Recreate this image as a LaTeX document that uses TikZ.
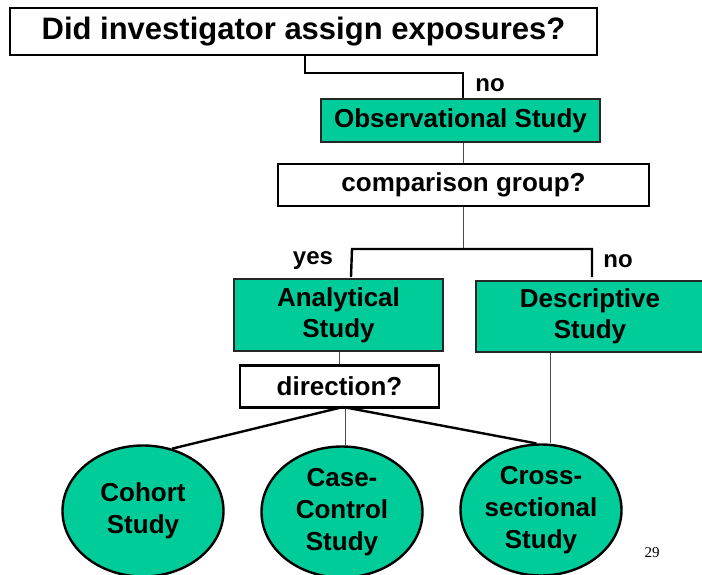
\documentclass[tikz,border=0pt]{standalone}
\usepackage{fontspec}
\setmainfont{Liberation Sans}
\newfontfamily\numfont{Liberation Serif}
\usetikzlibrary{shapes.geometric}
\definecolor{teal}{HTML}{00CC99}
\begin{document}
\begin{tikzpicture}[x=1pt,y=-1pt,
  qbox/.style={draw=black,line width=2pt,fill=white,inner sep=0pt,
    font=\bfseries\fontsize{26}{31}\selectfont},
  gbox/.style={draw=black!85,line width=1.6pt,fill=teal,inner sep=0pt,align=center,
    font=\bfseries\fontsize{26}{31}\selectfont},
  oval/.style={ellipse,draw=black,line width=2.4pt,fill=teal,inner sep=0pt,
    minimum width=161pt,minimum height=131pt,align=center,
    font=\bfseries\fontsize{26}{32}\selectfont},
  thinline/.style={draw=black!70,line width=1pt},
  thickline/.style={draw=black,line width=2.4pt},
  lbl/.style={font=\bfseries\fontsize{24}{28}\selectfont,inner sep=0pt}]
\useasboundingbox (0,0) rectangle (702,575);
\clip (0,0) rectangle (702,575);

% question and study-type boxes
\node[qbox,minimum width=587pt,minimum height=47pt,font=\bfseries\fontsize{31}{36}\selectfont]
  (title) at (303.5,31.5) {Did investigator assign exposures?};
\node[gbox,minimum width=279pt,minimum height=43pt] (obs) at (460.5,120.5) {Observational Study};
\node[qbox,line width=2.4pt,minimum width=371pt,minimum height=42pt] (comp) at (463.5,185) {comparison group?};
\node[gbox,minimum width=209pt,minimum height=72pt] (ana) at (338.5,315) {Analytical\\Study};
\node[gbox,minimum width=228pt,minimum height=71pt] (desc) at (590,316.5) {Descriptive\\Study};
\node[qbox,line width=2.4pt,minimum width=199pt,minimum height=42pt] (dir) at (339.5,386.5) {direction?};

% study designs
\node[oval] (coh) at (143,511) {Cohort\\Study};
\node[oval] (cc) at (342,512) {Case-\\Control\\Study};
\node[oval] (cs) at (541,510) {Cross-\\sectional\\Study};

% branch labels
\node[lbl] (no1) at (490,85) {no};
\node[lbl] (yes) at (313,261) {yes};
\node[lbl] (no2) at (618,261) {no};
\node[font=\numfont\fontsize{15}{17}\selectfont,inner sep=0pt] (pg) at (652,553) {29};

% connectors
\coordinate (t1) at (305,73);
\coordinate (t2) at (463,73);
\draw[thickline] (title.south -| t1) -- (t1) -- (t2) -- (obs.north -| t2);
\draw[thinline] (obs.south -| t2) -- (comp.north -| t2);
\coordinate (b0) at (463,249);
\coordinate (bl) at (352,249);
\coordinate (br) at (592,249);
\draw[thinline] (comp.south -| b0) -- (b0);
\draw[thickline] (351,277) -- (bl) -- (br) -- (br |- 0,277);
\draw[thinline] (ana.south -| 339,0) -- (dir.north -| 339,0);
\coordinate (apex) at (343,407);
\draw[thickline] (apex) -- (coh.65);
\draw[thinline] (345,407) -- (345,0 |- cc.north);
\draw[thickline] (apex) -- (cs.94);
\coordinate (dv) at (550,0);
\draw[thinline] (desc.south -| dv) -- (dv |- cs.north);
\end{tikzpicture}
\end{document}
